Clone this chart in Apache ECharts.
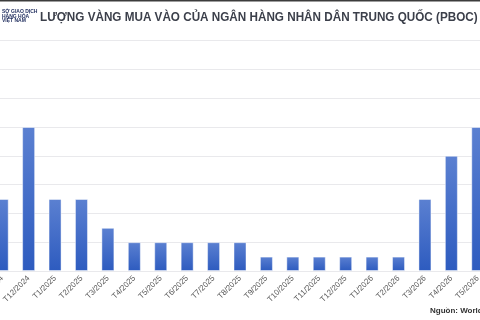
<!DOCTYPE html>
<html>
<head>
<meta charset="utf-8">
<script src="https://cdn.jsdelivr.net/npm/echarts@6/dist/echarts.min.js"></script>
<style>
  html, body { margin: 0; padding: 0; background: #fff; }
  #chart { width: 480px; height: 320px; }
</style>
</head>
<body>
<div id="chart"></div>
<script>
// tháng (nhãn trục) và lượng vàng mua vào (tấn)
const months = [
  'T11/2024', 'T12/2024', 'T1/2025', 'T2/2025', 'T3/2025', 'T4/2025',
  'T5/2025', 'T6/2025', 'T7/2025', 'T8/2025', 'T9/2025', 'T10/2025',
  'T11/2025', 'T12/2025', 'T1/2026', 'T2/2026', 'T3/2026', 'T4/2026', 'T5/2026'
]
const tonnes = [5, 10, 5, 5, 3, 2, 2, 2, 2, 2, 1, 1, 1, 1, 1, 1, 5, 8, 10]

const titleText = 'LƯỢNG VÀNG MUA VÀO CỦA NGÂN HÀNG NHÂN DÂN TRUNG QUỐC (PBOC)'
const logoLines = ['SỞ GIAO DỊCH', 'HÀNG HÓA', 'VIỆT NAM']
const sourceText = 'Nguồn: World Gold Council'

const chart = echarts.init(document.getElementById('chart'))

const option = {
  animation: false,
  backgroundColor: '#fff',
  textStyle: { fontFamily: 'Liberation Sans, Arial, sans-serif' },
  grid: {
    left: -11,
    right: -11,
    top: 40.6,
    bottom: 49,
    outerBoundsMode: 'none',
    containLabel: false
  },
  xAxis: {
    type: 'category',
    data: months,
    axisLine: { show: false },
    axisTick: { show: false },
    axisLabel: {
      rotate: 45,
      interval: 0,
      margin: 6,
      fontSize: 8,
      color: '#595959'
    }
  },
  yAxis: {
    type: 'value',
    min: 0,
    max: 16,
    interval: 2,
    axisLabel: { show: false },
    axisLine: { show: false },
    axisTick: { show: false },
    splitLine: { lineStyle: { color: '#e9e9ec', width: 1 } }
  },
  series: [{
    type: 'bar',
    data: tonnes,
    barWidth: 13,
    itemStyle: {
      color: new echarts.graphic.LinearGradient(0, 0, 0, 1, [
        { offset: 0, color: '#5b80d1' },
        { offset: 1, color: '#2d5bbf' }
      ]),
      borderColor: 'rgba(255,255,255,0.45)',
      borderWidth: 1
    }
  }],
  graphic: [
    {
      type: 'rect',
      shape: { x: 0, y: 0, width: 480, height: 1.5 },
      style: { fill: '#3c3c3c' }
    },
    {
      type: 'text',
      x: 40,
      y: 11,
      scaleX: 0.9,
      style: {
        text: titleText,
        font: 'bold 13px "Liberation Sans", Arial, sans-serif',
        fill: '#3b3f4a'
      }
    },
    ...logoLines.map((t, i) => ({
      type: 'text',
      x: 2,
      y: 9 + i * 4.8,
      style: {
        text: t,
        font: 'bold 5px "Liberation Sans", Arial, sans-serif',
        fill: '#1d2b5c'
      }
    })),
    {
      type: 'text',
      x: 430,
      y: 307,
      style: {
        text: sourceText,
        font: 'bold 8px "Liberation Sans", Arial, sans-serif',
        fill: '#333'
      }
    }
  ]
}

chart.setOption(option)
window.addEventListener('resize', () => chart.resize())
</script>
</body>
</html>
